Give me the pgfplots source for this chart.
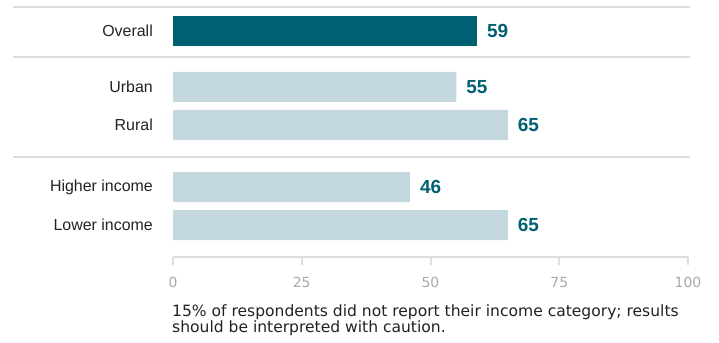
\documentclass[border=0pt]{standalone}
\usepackage{fontspec}
\setmainfont{Liberation Sans}
\newfontfamily\notefont{DejaVu Sans}
\usepackage{pgfplots}
\pgfplotsset{compat=1.18}
\definecolor{darkteal}{HTML}{005F70}
\definecolor{lightteal}{HTML}{C3D7DE}
\definecolor{sepgray}{HTML}{DDDDDD}
\definecolor{tickgray}{HTML}{A8A8A8}
\definecolor{labgray}{HTML}{222222}
\begin{document}
\begin{tikzpicture}
\useasboundingbox (0,0) rectangle (719bp,343bp);
\begin{axis}[
  at={(173bp,86.3bp)}, anchor=south west,
  scale only axis,
  width=515bp, height=256.7bp,
  xmin=0, xmax=100, ymin=0, ymax=256.7,
  y dir=reverse,
  clip=false,
  /pgf/number format/assume math mode=true,
  axis x line*=bottom, axis y line*=left,
  y axis line style={draw=none},
  x axis line style={draw=sepgray, line width=2bp, -},
  xtick={0,25,50,75,100},
  tick align=outside,
  major tick length=8bp,
  x tick style={draw=sepgray, line width=2bp},
  xticklabel style={font=\notefont\fontsize{14}{16}\selectfont, text=tickgray, inner sep=0pt, yshift=-12bp},
  ytick={31,87,125,187,225},
  yticklabels={Overall,Urban,Rural,Higher income,Lower income},
  y tick style={draw=none},
  yticklabel style={font=\fontsize{16}{18}\selectfont, text=labgray, inner sep=0pt, anchor=east, xshift=-12bp},
  xbar, bar width=30bp, bar shift=0pt,
  nodes near coords,
  point meta=x,
  nodes near coords style={anchor=west, inner sep=0pt, xshift=10bp, font=\fontsize{19}{22}\selectfont\bfseries, text=darkteal},
]
\addplot[fill=darkteal, draw=none] coordinates {(59,31)};
\addplot[fill=lightteal, draw=none] coordinates {(55,87) (65,125) (46,187) (65,225)};
\draw[sepgray, line width=2bp] (axis cs:-31.07,6.7) -- (axis cs:100.4,6.7);
\draw[sepgray, line width=2bp] (axis cs:-31.07,56.7) -- (axis cs:100.4,56.7);
\draw[sepgray, line width=2bp] (axis cs:-31.07,156.7) -- (axis cs:100.4,156.7);
\end{axis}
\node[anchor=base west, inner sep=0pt, font=\notefont\fontsize{15.6}{18}\selectfont, text=labgray] at (172bp,26.7bp) {15\% of respondents did not report their income category; results};
\node[anchor=base west, inner sep=0pt, font=\notefont\fontsize{15.6}{18}\selectfont, text=labgray] at (172bp,10.3bp) {should be interpreted with caution.};
\end{tikzpicture}
\end{document}
